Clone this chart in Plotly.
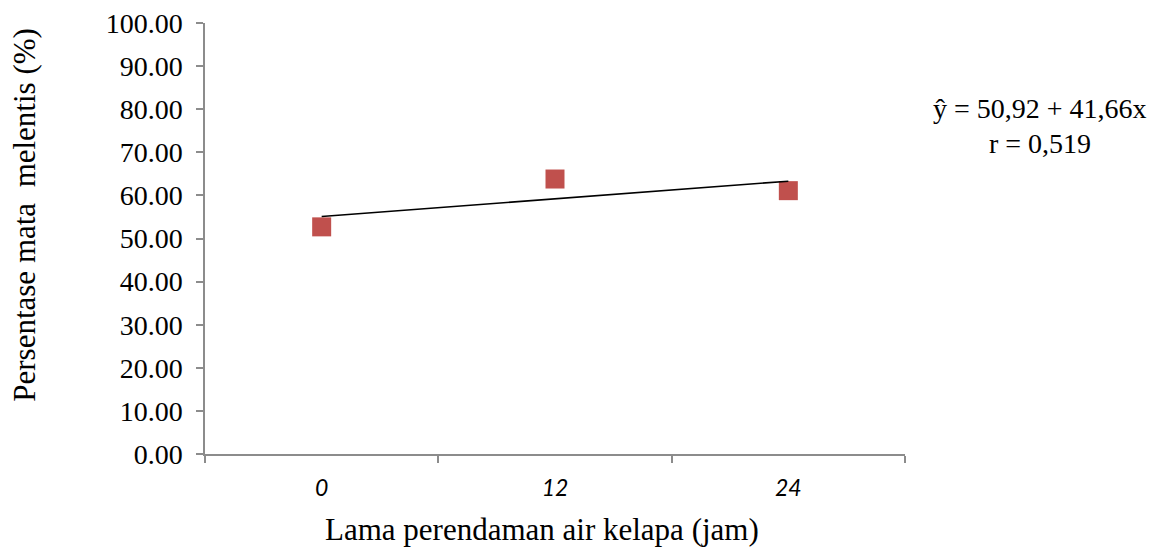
import plotly.graph_objects as go

categories = ["0", "12", "24"]
persen_melentis = [52.7, 63.8, 61.1]
trend_x = ["0", "24"]
trend_y = [55.1, 63.3]
y_ticks = [0, 10, 20, 30, 40, 50, 60, 70, 80, 90, 100]
equation_lines = ["ŷ = 50,92 + 41,66x", "r = 0,519"]
x_title = "Lama perendaman air kelapa (jam)"
y_title = "Persentase mata  melentis (%)"

serif = "Liberation Serif"
axis_col = "#8c8c8c"

fig = go.Figure()
fig.add_trace(go.Scatter(
    x=categories, y=persen_melentis, mode="markers",
    marker=dict(symbol="square", size=19, color="#C0504D", line=dict(width=0)),
    showlegend=False, hoverinfo="x+y"))
fig.add_trace(go.Scatter(
    x=trend_x, y=trend_y, mode="lines",
    line=dict(color="black", width=1.6), showlegend=False, hoverinfo="skip"))

fig.update_layout(
    width=1154, height=540,
    margin=dict(l=197, r=257, t=15, b=94),
    plot_bgcolor="white", paper_bgcolor="white",
    showlegend=False,
    xaxis=dict(
        type="category", categoryorder="array", categoryarray=categories,
        range=[-0.5, 2.5], tickson="boundaries", automargin=False,
        showline=True, linecolor=axis_col, linewidth=1.5,
        ticks="outside", ticklen=7, tickcolor=axis_col, tickwidth=1.5,
        showgrid=False, zeroline=False,
        tickfont=dict(family="Lato", size=23, color="black", style="italic"),
        ticklabelstandoff=13, ticklabeloverflow="allow",
    ),
    yaxis=dict(
        range=[0, 100], tickvals=y_ticks, tickformat=".2f", automargin=False,
        showline=True, linecolor=axis_col, linewidth=1.5,
        ticks="outside", ticklen=7, tickcolor=axis_col, tickwidth=1.5,
        showgrid=False, zeroline=False,
        tickfont=dict(family=serif, size=28, color="black"),
        ticklabelstandoff=8, ticklabeloverflow="allow",
    ),
)

fig.add_annotation(
    xref="paper", yref="paper", x=0.481, y=-0.176, text=x_title,
    showarrow=False, xanchor="center", yanchor="middle",
    font=dict(family=serif, size=31, color="black"))
fig.add_annotation(
    xref="paper", yref="paper", x=-0.259, y=0.5545, text=y_title,
    textangle=-90, showarrow=False, xanchor="center", yanchor="middle",
    font=dict(family=serif, size=31, color="black"))

for i, txt in enumerate(equation_lines):
    fig.add_annotation(
        xref="paper", yref="paper", x=1.193, y=0.802 - i * 0.081,
        text=txt, showarrow=False, xanchor="center", yanchor="middle",
        font=dict(family=serif, size=28, color="black"))

fig.write_html("out.html")
